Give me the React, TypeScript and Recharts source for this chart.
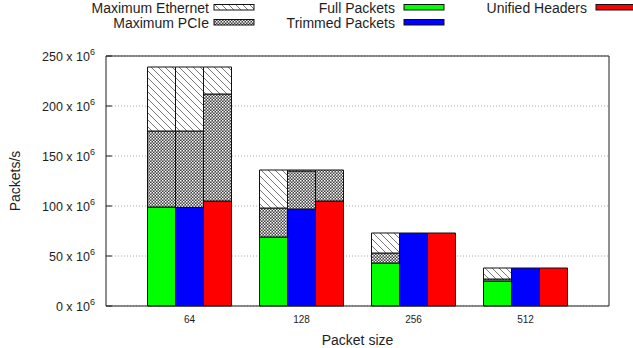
import React from 'react';
import {
  BarChart,
  Bar,
  XAxis,
  YAxis,
  CartesianGrid,
  ReferenceLine,
} from 'recharts';

// packet sizes on the x axis
const categories = ['64', '128', '256', '512'];

// measured throughput, in 10^6 packets/s
const fullPackets = [99, 69, 43, 25];
const trimmedPackets = [98.5, 97, 73, 38];
const unifiedHeaders = [105, 105, 73, 38];

// upper bounds, in 10^6 packets/s
const fullPcieMax = [175, 98, 53, 27];
const trimmedPcieMax = [175, 135, 73, 38];
const unifiedPcieMax = [212, 136, 73, 38];
const maxEthernet = [239, 136, 73, 38];

const yTicks = [0, 50, 100, 150, 200, 250];

const FONT = '"Liberation Sans", Arial, Helvetica, sans-serif';
const INK = '#1e1e1e';

// base + pcie headroom + ethernet headroom, stacked per series
function stack(base: number[], pcie: number[], i: number) {
  const b = base[i];
  const p = Math.max(0, pcie[i] - b);
  const e = Math.max(0, maxEthernet[i] - Math.max(b, pcie[i]));
  return [b, p, e];
}

const data = categories.map((size, i) => {
  const [full, fullPcie, fullEth] = stack(fullPackets, fullPcieMax, i);
  const [trim, trimPcie, trimEth] = stack(trimmedPackets, trimmedPcieMax, i);
  const [uni, uniPcie, uniEth] = stack(unifiedHeaders, unifiedPcieMax, i);
  return { size, full, fullPcie, fullEth, trim, trimPcie, trimEth, uni, uniPcie, uniEth };
});

function PatternDefs({ suffix }: { suffix: string }) {
  return (
    <defs>
      <pattern id={'hatch' + suffix} patternUnits='userSpaceOnUse' width={7} height={7}>
        <rect width={7} height={7} fill='#fff' />
        <path d='M0,0 L7,7 M-1,6 L1,8 M6,-1 L8,1' stroke='#777' strokeWidth={1} />
      </pattern>
      <pattern id={'cross' + suffix} patternUnits='userSpaceOnUse' width={3} height={3}>
        <rect width={3} height={3} fill='#444' />
        <rect x={0} y={0} width={1.5} height={1.5} fill='#fff' />
        <rect x={1.5} y={1.5} width={1.5} height={1.5} fill='#ddd' />
      </pattern>
    </defs>
  );
}

function YTick(props: any) {
  const { x, y, payload } = props;
  return (
    <text x={x} y={y} dy={4.5} textAnchor='end' fontSize={12.5} fill={INK} fontFamily={FONT}>
      {payload.value} x 10
      <tspan dy={-5.5} fontSize={9}>6</tspan>
    </text>
  );
}

function Legend() {
  const items = [
    { label: 'Maximum Ethernet', fill: 'url(#hatchL)', tx: 209, sx: 214, row: 0 },
    { label: 'Maximum PCIe', fill: 'url(#crossL)', tx: 209, sx: 214, row: 1 },
    { label: 'Full Packets', fill: '#00ff00', tx: 395, sx: 404, row: 0 },
    { label: 'Trimmed Packets', fill: '#0000ff', tx: 395, sx: 404, row: 1 },
    { label: 'Unified Headers', fill: '#ff0000', tx: 587, sx: 596, row: 0 },
  ];
  return (
    <svg width={633} height={36} style={{ position: 'absolute', left: 0, top: 0 }}>
      <PatternDefs suffix='L' />
      {items.map((it) => (
        <g key={it.label}>
          <text
            x={it.tx}
            y={13.3 + it.row * 15}
            textAnchor='end'
            fontSize={14}
            fill={INK}
            fontFamily={FONT}
          >
            {it.label}
          </text>
          <rect
            x={it.sx}
            y={4.5 + it.row * 15}
            width={40}
            height={5.5}
            fill={it.fill}
            stroke='#111'
            strokeWidth={1}
          />
        </g>
      ))}
    </svg>
  );
}

export default function App() {
  const seg = { stroke: '#111', strokeWidth: 1, isAnimationActive: false };
  return (
    <div style={{ position: 'absolute', left: 0, top: 0, width: 633, height: 348, background: '#fff' }}>
      <BarChart
        width={633}
        height={348}
        data={data}
        margin={{ top: 56, right: 0, bottom: 0, left: 0 }}
        barGap={0}
        barCategoryGap={14}
      >
        <PatternDefs suffix='C' />
        <CartesianGrid horizontal vertical={false} stroke='#aaa' strokeDasharray='1 2' />
        <XAxis
          dataKey='size'
          height={42}
          padding={{ left: 27.5, right: 27.5 }}
          tickLine={false}
          axisLine={{ stroke: INK }}
          tick={{ fontSize: 10, fill: INK, fontFamily: FONT }}
          tickSize={6}
          tickMargin={4}
          label={{
            content: (p: any) => (
              <text
                x={p.viewBox.x + p.viewBox.width / 2}
                y={345}
                textAnchor='middle'
                fontSize={14}
                fill={INK}
                fontFamily={FONT}
              >
                Packet size
              </text>
            ),
          }}
        />
        <YAxis
          width={106}
          domain={[0, 250]}
          ticks={yTicks}
          interval={0}
          tickSize={-6}
          tickMargin={17}
          tickLine={{ stroke: INK }}
          axisLine={{ stroke: INK }}
          tick={<YTick />}
          label={{
            content: (p: any) => (
              <text
                x={20}
                y={p.viewBox.y + p.viewBox.height / 2}
                transform={`rotate(-90 20 ${p.viewBox.y + p.viewBox.height / 2})`}
                textAnchor='middle'
                fontSize={14}
                fill={INK}
                fontFamily={FONT}
              >
                Packets/s
              </text>
            ),
          }}
        />
        <YAxis
          yAxisId='r'
          orientation='right'
          width={24}
          domain={[0, 250]}
          ticks={yTicks}
          interval={0}
          tickSize={-6}
          tick={false}
          tickLine={{ stroke: INK }}
          axisLine={{ stroke: INK }}
        />
        <ReferenceLine y={250} stroke={INK} />

        <Bar dataKey='full' stackId='full' fill='#00ff00' {...seg} />
        <Bar dataKey='fullPcie' stackId='full' fill='url(#crossC)' {...seg} />
        <Bar dataKey='fullEth' stackId='full' fill='url(#hatchC)' {...seg} />

        <Bar dataKey='trim' stackId='trim' fill='#0000ff' {...seg} />
        <Bar dataKey='trimPcie' stackId='trim' fill='url(#crossC)' {...seg} />
        <Bar dataKey='trimEth' stackId='trim' fill='url(#hatchC)' {...seg} />

        <Bar dataKey='uni' stackId='uni' fill='#ff0000' {...seg} />
        <Bar dataKey='uniPcie' stackId='uni' fill='url(#crossC)' {...seg} />
        <Bar dataKey='uniEth' stackId='uni' fill='url(#hatchC)' {...seg} />
      </BarChart>
      <Legend />
    </div>
  );
}
